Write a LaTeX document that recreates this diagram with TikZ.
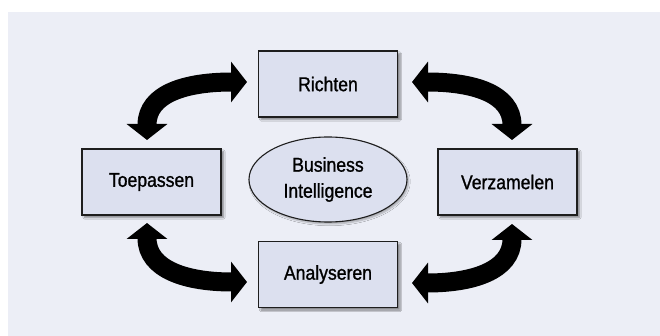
\documentclass[tikz,border=0pt]{standalone}
\usepackage{fontspec}
\newfontfamily\lblfont{Liberation Sans}[FakeStretch=0.88,FakeBold=1.1]
\usetikzlibrary{arrows.meta,shapes.geometric,shadows.blur,calc}

\definecolor{panelbg}{HTML}{ECEEF6}
\definecolor{boxfill}{HTML}{DCE0EF}
\definecolor{edge}{HTML}{1E1E1E}

\tikzset{
  phase/.style={draw=edge, line width=1.2pt, fill=boxfill, inner sep=0pt,
    minimum width=139pt, minimum height=66pt,
    font=\lblfont\fontsize{20}{26}\selectfont, text=black,
    blur shadow={shadow xshift=2.5pt, shadow yshift=-2.5pt,
      shadow opacity=45, shadow blur steps=6}},
  core/.style={ellipse, draw=edge, line width=1.1pt, fill=boxfill, inner sep=0pt,
    minimum width=158pt, minimum height=85pt, align=center,
    font=\lblfont\fontsize{20}{26}\selectfont, text=black,
    blur shadow={shadow xshift=1.5pt, shadow yshift=-2pt,
      shadow opacity=30, shadow blur steps=5}},
  flow/.style={line width=19pt, black,
    {Triangle[length=16pt,width=40pt]}-{Triangle[length=16pt,width=40pt]}}
}

\begin{document}
\begin{tikzpicture}[x=1pt, y=-1pt]
  % canvas and panel
  \useasboundingbox (0,0) rectangle (660,336);
  \fill[white] (0,0) rectangle (660,336);
  \fill[panelbg] (8,12) rectangle (660,336);

  % cycle stages
  \node[phase] (richten)    at (328,84)    {Richten};
  \node[phase] (toepassen)  at (151.5,182) {Toepassen};
  \node[phase] (verzamelen) at (507.5,182) {Verzamelen};
  \node[phase] (analyseren) at (328,274.5) {Analyseren};

  % centre
  \node[core] (bi) at (328,179.5) {Business\\Intelligence};

  % arrow end points
  \coordinate (tlA) at (147,140);
  \coordinate (tlB) at (247,82);
  \coordinate (trA) at (412,82);
  \coordinate (trB) at (512,140);
  \coordinate (blA) at (147,223);
  \coordinate (blB) at (247,282);
  \coordinate (brA) at (412,283);
  \coordinate (brB) at (512,224);

  % double-headed curved arrows between the stages
  \draw[flow] (tlA) .. controls ($(tlA)+(0,-47)$) and ($(tlB)+(-60,0)$) .. (tlB);
  \draw[flow] (trA) .. controls ($(trA)+(60,0)$) and ($(trB)+(0,-47)$) .. (trB);
  \draw[flow] (blA) .. controls ($(blA)+(0,47)$) and ($(blB)+(-60,0)$) .. (blB);
  \draw[flow] (brA) .. controls ($(brA)+(60,0)$) and ($(brB)+(0,47)$) .. (brB);
\end{tikzpicture}
\end{document}
